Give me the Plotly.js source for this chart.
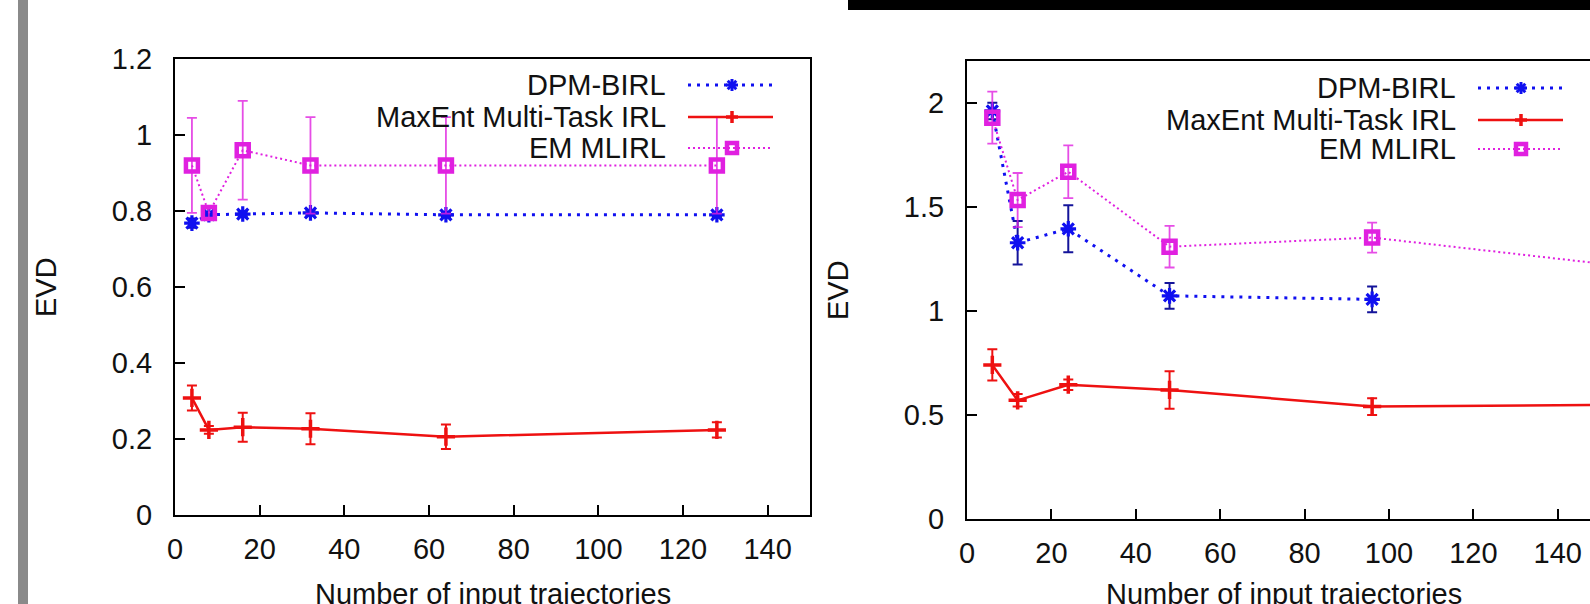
<!DOCTYPE html>
<html><head><meta charset="utf-8">
<script src="https://cdn.plot.ly/plotly-3.0.1.min.js"></script>
<style>html,body{margin:0;padding:0;overflow:hidden;background:#fff}#chart{width:1620px;height:604px}</style>
</head><body><div id="chart"></div>
<script>
// ---- data: left panel ----
const xLeft = [4, 8, 16, 32, 64, 128];
const dpmLeft = [0.768, 0.79, 0.792, 0.795, 0.79, 0.79];
const dpmLeftErr = [0.012, 0.006, 0.006, 0.006, 0.006, 0.006];
const maxentLeft = [0.308, 0.224, 0.231, 0.227, 0.206, 0.224];
const maxentLeftErr = [0.033, 0.01, 0.038, 0.041, 0.032, 0.02];
const emLeft = [0.92, 0.795, 0.96, 0.92, 0.92, 0.92];
const emLeftErr = [0.125, 0.015, 0.13, 0.127, 0.127, 0.127];
// ---- data: right panel ----
const xRight = [6, 12, 24, 48, 96, 192];
const dpmRight = [1.96, 1.327, 1.394, 1.072, 1.055];
const dpmRightErr = [0.04, 0.105, 0.113, 0.062, 0.062];
const maxentRight = [0.74, 0.57, 0.645, 0.62, 0.54, 0.555];
const maxentRightErr = [0.075, 0.03, 0.025, 0.09, 0.04, 0.03];
const emRight = [1.928, 1.532, 1.668, 1.308, 1.352, 1.13];
const emRightErr = [0.125, 0.13, 0.127, 0.1, 0.072, 0.07];
// ---- labels ----
const seriesNames = ['DPM-BIRL', 'MaxEnt Multi-Task IRL', 'EM MLIRL'];
const xTickVals = [0, 20, 40, 60, 80, 100, 120, 140];
const leftYTicks = [0, 0.2, 0.4, 0.6, 0.8, 1, 1.2];
const rightYTicks = [0, 0.5, 1, 1.5, 2];
const xTitle = 'Number of input trajectories';
const yTitle = 'EVD';

// ---- styling ----
const W = 1620, H = 604;
const px = v => v / W, py = v => 1 - v / H;
const FONT = 'Liberation Sans, Arial, Helvetica, sans-serif';
const BLUE = '#1010f0', BLUE_ERR = '#14149a', RED = '#ee1111', MAG = '#e020e0', MAG_ERR = 'rgba(224,32,224,0.8)';

function series(x, y, err, kind, xa, ya) {
  const st = {
    dpm: {line: {color: BLUE, width: 3, dash: '3px,6px'}, marker: {symbol: 'asterisk-open', size: 13, color: BLUE, line: {color: BLUE, width: 3.2}}, ec: BLUE_ERR, et: 2},
    max: {line: {color: RED, width: 2.5}, marker: {symbol: 'cross-thin-open', size: 13, color: RED, line: {color: RED, width: 3.5}}, ec: RED, et: 2},
    em: {line: {color: MAG, width: 2, dash: '2px,3px'}, marker: {symbol: 'square-open', size: 12, color: MAG, line: {color: MAG, width: 4.5}}, ec: MAG_ERR, et: 1.8}
  }[kind];
  return {type: 'scatter', mode: 'lines+markers', x: x.slice(0, y.length), y, xaxis: xa, yaxis: ya,
    line: st.line, marker: st.marker, showlegend: false, hoverinfo: 'skip',
    error_y: {type: 'data', array: err, visible: true, color: st.ec, thickness: st.et, width: 5}};
}

const data = [
  series(xLeft, dpmLeft, dpmLeftErr, 'dpm', 'x', 'y'),
  series(xLeft, maxentLeft, maxentLeftErr, 'max', 'x', 'y'),
  series(xLeft, emLeft, emLeftErr, 'em', 'x', 'y'),
  series(xRight, dpmRight, dpmRightErr, 'dpm', 'x2', 'y2'),
  series(xRight, maxentRight, maxentRightErr, 'max', 'x2', 'y2'),
  series(xRight, emRight, emRightErr, 'em', 'x2', 'y2')
];

const tickFont = {family: FONT, size: 29, color: '#111'};
function xAxis(domain, anchor) {
  return {domain, anchor, range: [0, 150], tickmode: 'array', tickvals: xTickVals, ticktext: xTickVals.map(String),
    ticks: 'inside', ticklen: 10, tickwidth: 2, tickcolor: '#000', showline: true, linewidth: 2, linecolor: '#000',
    mirror: true, showgrid: false, zeroline: false, tickfont: tickFont, ticklabelstandoff: 7, fixedrange: true};
}
function yAxis(domain, anchor, range, ticks) {
  return {domain, anchor, range, tickmode: 'array', tickvals: ticks, ticktext: ticks.map(String),
    ticks: 'inside', ticklen: 10, tickwidth: 2, tickcolor: '#000', showline: true, linewidth: 2, linecolor: '#000',
    mirror: true, showgrid: false, zeroline: false, tickfont: tickFont, ticklabelstandoff: 15, fixedrange: true};
}

const annotations = [];
const shapes = [];
function text(t, x, y, opts) {
  annotations.push(Object.assign({text: t, xref: 'paper', yref: 'paper', x: px(x), y: py(y), showarrow: false,
    font: {family: FONT, size: 29, color: '#111'}, xanchor: 'center', yanchor: 'middle'}, opts || {}));
}
function seg(x0, y0, x1, y1, color, width, dash) {
  shapes.push({type: 'line', xref: 'paper', yref: 'paper', x0: px(x0), y0: py(y0), x1: px(x1), y1: py(y1),
    line: {color, width, dash: dash || 'solid'}});
}
function legend(textRight, rows, lineX0, lineX1, markX) {
  const styles = [[BLUE, 3, '3px,6px'], [RED, 2.5, 'solid'], [MAG, 2, '2px,3px']];
  rows.forEach((ry, i) => {
    text(seriesNames[i], textRight, ry, {xanchor: 'right'});
    seg(lineX0, ry, lineX1, ry, styles[i][0], styles[i][1], styles[i][2]);
  });
  const r = 6, d = 4.3;
  let ry = rows[0];
  seg(markX - r, ry, markX + r, ry, BLUE, 3); seg(markX, ry - r, markX, ry + r, BLUE, 3);
  seg(markX - d, ry - d, markX + d, ry + d, BLUE, 3); seg(markX - d, ry + d, markX + d, ry - d, BLUE, 3);
  ry = rows[1];
  seg(markX - r, ry, markX + r, ry, RED, 3.5); seg(markX, ry - r, markX, ry + r, RED, 3.5);
  ry = rows[2];
  shapes.push({type: 'rect', xref: 'paper', yref: 'paper', x0: px(markX - 5), x1: px(markX + 5), y0: py(ry - 5), y1: py(ry + 5),
    line: {color: MAG, width: 4.5}, fillcolor: 'rgba(0,0,0,0)'});
}
legend(668, [85, 117, 148], 688, 773, 732);
legend(1458, [88, 120, 149], 1478, 1563, 1521);

text(yTitle, 46, 287, {textangle: -90});
text(yTitle, 838, 290, {textangle: -90});
text(xTitle, 493, 594);
text(xTitle, 1284, 594);

// page decorations of the screenshot
shapes.push({type: 'rect', xref: 'paper', yref: 'paper', x0: px(18), x1: px(28), y0: 0, y1: 1, line: {width: 0}, fillcolor: '#8a8a8a', layer: 'below'});
shapes.push({type: 'rect', xref: 'paper', yref: 'paper', x0: px(848), x1: 1, y0: py(10), y1: 1, line: {width: 0}, fillcolor: '#000'});

const layout = {
  width: W, height: H, margin: {l: 0, r: 0, t: 0, b: 0}, paper_bgcolor: '#fff', plot_bgcolor: '#fff',
  xaxis: xAxis([px(175), px(810)], 'y'),
  yaxis: yAxis([1 - 515 / H, 1 - 59 / H], 'x', [0, 1.2], leftYTicks),
  xaxis2: xAxis([px(967), px(1600)], 'y2'),
  yaxis2: yAxis([1 - 519 / H, 1 - 61 / H], 'x2', [0, 2.2], rightYTicks),
  annotations, shapes
};
Plotly.newPlot('chart', data, layout, {staticPlot: true, displayModeBar: false});
</script></body></html>
